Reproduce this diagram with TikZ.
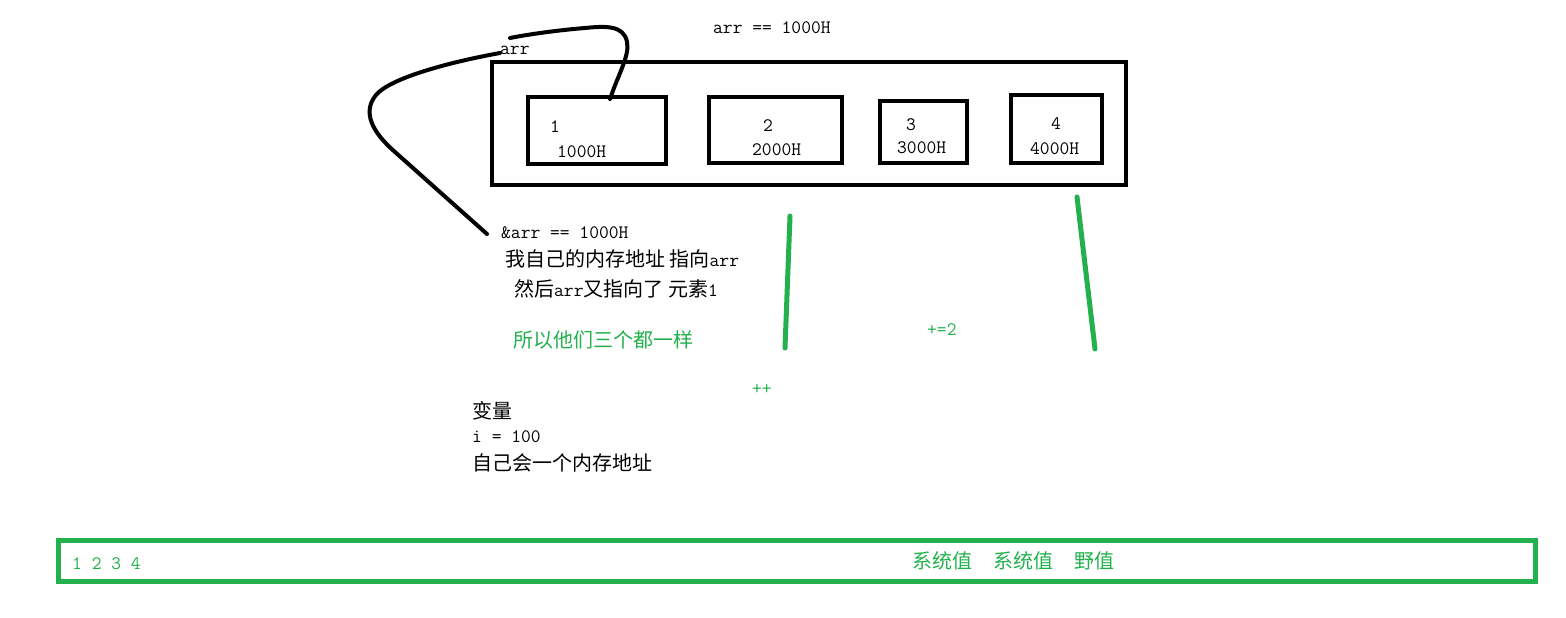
\documentclass[tikz,border=0pt]{standalone}
\usepackage{fontspec}
\setmainfont{Latin Modern Mono}[Scale=0.95]
\newfontfamily\cjk{Noto Sans CJK SC}
\definecolor{pgreen}{RGB}{34,177,76}
\begin{document}
\begin{tikzpicture}[x=1pt,y=-1pt,
  box/.style={draw=black,line width=4pt},
  txt/.style={inner sep=0pt,anchor=west,font=\fontsize{20}{24}\selectfont},
  gtxt/.style={txt,text=pgreen},
  gline/.style={draw=pgreen,line width=5pt,line cap=round},
  curve/.style={draw=black,line width=4pt,line cap=round,line join=round}]
\useasboundingbox[fill=white] (0,0) rectangle (1566,618);
% outer array box
\node[box,minimum width=634pt,minimum height=123pt,inner sep=0pt] (arrbox) at (809,123.5) {};
% element boxes
\node[box,minimum width=138pt,minimum height=67pt,inner sep=0pt] (b1) at (597,130.5) {};
\node[box,minimum width=133pt,minimum height=66pt,inner sep=0pt] (b2) at (775.5,130) {};
\node[box,minimum width=87pt,minimum height=62pt,inner sep=0pt] (b3) at (923.5,132) {};
\node[box,minimum width=91pt,minimum height=68pt,inner sep=0pt] (b4) at (1056.5,129) {};
\node[txt] (v1) at (550,127) {1};
\node[txt] (a1) at (557,152) {1000H};
\node[txt] (v2) at (763,126) {2};
\node[txt] (a2) at (752,150) {2000H};
\node[txt] (v3) at (906,125) {3};
\node[txt] (a3) at (897,148) {3000H};
\node[txt] (v4) at (1051,124) {4};
\node[txt] (a4) at (1030,149) {4000H};
% top labels
\node[txt] (arreq) at (713,28) {arr == 1000H};
\node[txt] (arrlbl) at (500,50) {arr};
% curves
\coordinate (c1s) at (610,99);
\coordinate (c1e) at (510,38);
\draw[curve] (c1s) .. controls (618,75) and (630,55) .. (627,42)
  .. controls (624,25) and (605,26) .. (585,28)
  .. controls (560,30) and (530,34) .. (c1e);
\coordinate (c2s) at (500,53);
\coordinate (c2e) at (487,234);
\draw[curve] (c2s) .. controls (450,62) and (390,78) .. (376,95)
  .. controls (362,112) and (372,132) .. (395,152)
  -- (c2e);
% address text
\node[txt] (amp) at (501,233) {\&arr == 1000H};
\node[txt] (l2) at (505,259) {{\cjk 我自己的内存地址 指向}arr};
\node[txt] (l3) at (514,289) {{\cjk 然后}arr{\cjk 又指向了 元素}1};
\node[gtxt] (l4) at (513,340) {{\cjk 所以他们三个都一样}};
% green lines
\coordinate (g1a) at (790,216);
\coordinate (g1b) at (785,348);
\draw[gline] (g1a) -- (g1b);
\coordinate (g2a) at (1077,197);
\coordinate (g2b) at (1095,349);
\draw[gline] (g2a) -- (g2b);
\node[gtxt] (pe2) at (927,330) {+=2};
\node[gtxt] (pp) at (752,389) {++};
% variable text
\node[txt] (var1) at (472,411) {{\cjk 变量}};
\node[txt] (var2) at (472,437) {i = 100};
\node[txt] (var3) at (472,463) {{\cjk 自己会一个内存地址}};
% bottom green box
\node[draw=pgreen,line width=5pt,minimum width=1477pt,minimum height=41pt,inner sep=0pt] (gbox) at (796.5,560.5) {};
\node[gtxt] (nums) at (72,564) {1 2 3 4};
\node[gtxt] (sys) at (912,561) {{\cjk 系统值\hspace{21pt}系统值\hspace{21pt}野值}};
\end{tikzpicture}
\end{document}
